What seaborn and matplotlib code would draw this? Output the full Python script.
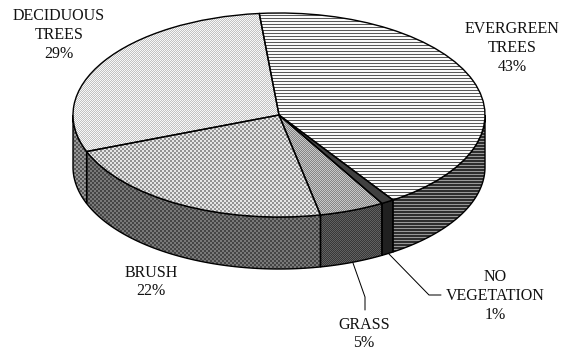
import numpy as np
import matplotlib
matplotlib.use("Agg")
import matplotlib.pyplot as plt
from matplotlib.patches import Polygon
import seaborn as sns

categories = ["EVERGREEN\nTREES", "NO\nVEGETATION", "GRASS", "BRUSH", "DECIDUOUS\nTREES"]
percents = [42.2, 1, 5.1, 22.4, 29.3]
percent_labels = ["43%", "1%", "5%", "22%", "29%"]

W, H = 564, 357
CX, CY, RX, RY, DEPTH = 279, 115, 206, 102, 52
START = 95.5

sns.set_theme(style="white")
plt.rcParams["font.family"] = ["Liberation Serif", "DejaVu Serif"]

fig = plt.figure(figsize=(W / 72, H / 72), dpi=72, facecolor="white")
ax = fig.add_axes([0, 0, 1, 1])

wedges, _ = ax.pie(percents, startangle=START, counterclock=False, radius=1,
                   wedgeprops=dict(facecolor="none", edgecolor="black", linewidth=1.4, zorder=5))
ax.set_aspect("auto")
limits = ((0 - CX) / RX, (W - CX) / RX, (CY - H) / RY, CY / RY)
ax.set_xlim(limits[0], limits[1])
ax.set_ylim(limits[2], limits[3])
ax.set_axis_off()

yy, xx = np.indices((H, W))
checker = ((xx + yy) % 2).astype(float)
checker2 = (((xx // 2) + (yy // 2)) % 2).astype(float)
hlines = (yy % 3 == 0).astype(float)


def mix(mask, a, b):
    return a + (b - a) * mask


top_tex = [mix(hlines, 0.98, 0.35), np.full((H, W), 0.25), mix(checker, 0.78, 0.52),
           mix(checker2, 0.90, 0.58), mix(checker, 0.97, 0.76)]
wall_tex = [mix(hlines, 0.18, 0.60), np.full((H, W), 0.13), mix(checker, 0.38, 0.22),
            mix(checker2, 0.48, 0.27), mix(checker2, 0.60, 0.34)]


def show(tex, clip, z):
    im = ax.imshow(tex, cmap="gray", vmin=0, vmax=1, extent=limits, aspect="auto",
                   interpolation="nearest", zorder=z)
    im.set_clip_path(clip)


d = DEPTH / RY
for w, tex in zip(wedges, wall_tex):
    for lo, hi in ((180, 360), (-180, 0)):
        a, b = max(w.theta1, lo), min(w.theta2, hi)
        if b <= a:
            continue
        t = np.radians(np.linspace(a, b, 80))
        x, y = np.cos(t), np.sin(t)
        pts = np.r_[np.c_[x, y], np.c_[x[::-1], y[::-1] - d]]
        poly = Polygon(pts, closed=True, facecolor="none", edgecolor="black", linewidth=1.4, zorder=3)
        ax.add_patch(poly)
        show(tex, poly, 2)

for w, tex in zip(wedges, top_tex):
    w.set_zorder(5)
    show(tex, w, 4)


def fx(px):
    return px / W


def fy(py):
    return 1 - py / H


label_pos = [(512, 48), (495, 296), (364, 334), (151, 282), (59, 35)]
for cat, pct, (px, py) in zip(categories, percent_labels, label_pos):
    ax.text(fx(px), fy(py), f"{cat}\n{pct}", transform=ax.transAxes, ha="center", va="center",
            fontsize=16, color="#111111", linespacing=1.23, zorder=7)

for pts in ([(389, 254), (429, 295), (441, 295)], [(353, 263), (365, 297), (365, 310)]):
    ax.plot([fx(p[0]) for p in pts], [fy(p[1]) for p in pts], transform=ax.transAxes,
            color="black", linewidth=1.0, zorder=6)

fig.savefig("out.png", dpi=72, facecolor="white")
